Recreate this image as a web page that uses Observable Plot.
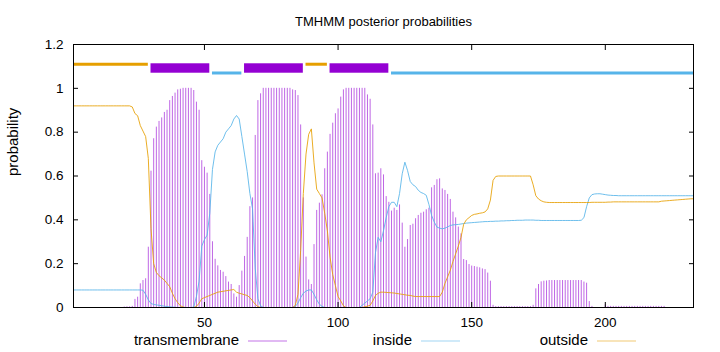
<!DOCTYPE html>
<html>
<head>
<meta charset="utf-8">
<script src="https://cdn.jsdelivr.net/npm/d3@7"></script>
<script src="https://cdn.jsdelivr.net/npm/@observablehq/plot@0.6"></script>
<style>
  html, body { margin: 0; padding: 0; background: #fff; }
  #chart { width: 720px; height: 352px; }
</style>
</head>
<body>
<div id="chart"></div>
<script>
// ---- chart text ----
const title = "TMHMM posterior probabilities";
const yLabel = "probability";
const seqLength = 233;
const xTicks = [50, 100, 150, 200];
const xTickLabels = ["50", "100", "150", "200"];
const yTicks = [0, 0.2, 0.4, 0.6, 0.8, 1, 1.2];
const yTickLabels = ["0", "0.2", "0.4", "0.6", "0.8", "1", "1.2"];
const seriesNames = ["transmembrane", "inside", "outside"];
const seriesColors = ["#9400d3", "#56b4e9", "#e69f00"];

// ---- posterior probabilities per residue (1..233) ----
const transmembrane = [
  0,0,0,0,0,0,0,0,0,0,
  0,0,0,0,0,0,0,0,0,0.002,
  0.003,0.003,0.005,0.037,0.047,0.108,0.123,0.131,0.275,0.622,
  0.77,0.823,0.849,0.865,0.89,0.9,0.944,0.963,0.978,0.993,
  0.996,1,1,1,1,0.99,0.937,0.9,0.67,0.64,
  0.613,0.516,0.3,0.22,0.19,0.169,0.161,0.141,0.116,0.105,
  0.062,0.047,0.1,0.166,0.233,0.32,0.46,0.5,0.785,0.944,
  0.975,1,1,1,1,1,1,1,1,1,
  1,1,0.993,0.99,0.967,0.833,0.5,0.23,0.126,0.105,
  0.287,0.443,0.476,0.514,0.633,0.709,0.79,0.841,0.884,0.906,
  0.96,0.993,1,1,1,1,1,1,1,1,
  0.97,0.95,0.833,0.61,0.613,0.633,0.605,0.506,0.48,0.44,
  0.453,0.443,0.468,0.385,0.275,0.31,0.374,0.38,0.405,0.42,
  0.43,0.435,0.446,0.453,0.546,0.557,0.583,0.587,0.541,0.534,
  0.516,0.493,0.435,0.409,0.367,0.336,0.219,0.214,0.196,0.189,
  0.187,0.184,0.181,0.176,0.173,0.157,0.12,0.01,0.004,0.004,
  0.004,0.004,0.004,0.004,0.004,0.004,0.004,0.004,0.004,0.004,
  0.004,0.004,0.01,0.085,0.105,0.117,0.12,0.121,0.123,0.123,
  0.123,0.123,0.123,0.123,0.123,0.123,0.123,0.123,0.123,0.123,
  0.123,0.116,0.111,0.027,0.005,0,0,0,0,0.012,
  0.005,0.005,0.005,0.005,0.005,0.005,0.005,0.005,0.005,0.005,
  0.005,0.005,0.005,0.005,0.005,0.005,0.005,0.005,0.005,0.005,
  0.005,0.005,0,0,0,0,0,0,0,0,
  0,0,0
];
const inside = [
  0.08,0.08,0.08,0.08,0.08,0.08,0.08,0.08,0.08,0.08,
  0.08,0.08,0.08,0.08,0.08,0.08,0.08,0.08,0.08,0.08,
  0.08,0.08,0.08,0.08,0.08,0.08,0.079,0.06,0.035,0.018,
  0.014,0.012,0.01,0.008,0.006,0.004,0.003,0.002,0.001,0,
  0,0,0,0,0,0.002,0.05,0.12,0.28,0.31,
  0.33,0.43,0.63,0.71,0.74,0.755,0.77,0.8,0.815,0.83,
  0.86,0.876,0.86,0.78,0.7,0.62,0.52,0.45,0.18,0.04,
  0.008,0,0,0,0,0,0,0,0,0,
  0,0,0,0.005,0.02,0.045,0.065,0.075,0.08,0.08,
  0.06,0.035,0.015,0.005,0,0,0,0,0,0,
  0,0,0,0,0,0,0,0,0.01,0.02,
  0.03,0.04,0.07,0.25,0.32,0.3,0.35,0.41,0.46,0.48,
  0.48,0.46,0.52,0.61,0.663,0.625,0.575,0.56,0.552,0.535,
  0.525,0.52,0.512,0.47,0.42,0.39,0.367,0.362,0.359,0.362,
  0.368,0.374,0.377,0.378,0.379,0.381,0.383,0.385,0.386,0.387,
  0.388,0.389,0.39,0.391,0.392,0.392,0.393,0.393,0.394,0.394,
  0.395,0.395,0.396,0.396,0.397,0.397,0.398,0.398,0.398,0.399,
  0.399,0.399,0.399,0.398,0.398,0.397,0.397,0.397,0.397,0.397,
  0.397,0.397,0.397,0.397,0.397,0.397,0.397,0.397,0.397,0.397,
  0.398,0.41,0.46,0.5,0.515,0.518,0.519,0.519,0.517,0.515,
  0.513,0.512,0.511,0.511,0.51,0.51,0.51,0.51,0.51,0.51,
  0.51,0.51,0.51,0.51,0.51,0.51,0.51,0.51,0.51,0.51,
  0.51,0.51,0.51,0.51,0.51,0.51,0.51,0.51,0.51,0.51,
  0.51,0.51,0.51
];
const outside = [
  0.92,0.92,0.92,0.92,0.92,0.92,0.92,0.92,0.92,0.92,
  0.92,0.92,0.92,0.92,0.92,0.92,0.92,0.92,0.92,0.92,
  0.92,0.92,0.915,0.885,0.875,0.83,0.805,0.78,0.68,0.36,
  0.2,0.16,0.145,0.135,0.125,0.11,0.095,0.065,0.04,0.022,
  0.008,0.002,0,0,0,0,0.005,0.02,0.04,0.045,
  0.05,0.055,0.06,0.065,0.07,0.072,0.074,0.076,0.078,0.08,
  0.082,0.07,0.065,0.062,0.058,0.055,0.045,0.03,0.015,0.004,
  0,0,0,0,0,0,0,0,0,0,
  0,0,0,0.01,0.06,0.26,0.52,0.7,0.79,0.815,
  0.66,0.54,0.52,0.5,0.43,0.35,0.23,0.15,0.1,0.05,
  0.03,0.008,0,0,0,0,0,0,0,0.003,
  0.006,0.01,0.03,0.055,0.065,0.07,0.07,0.069,0.068,0.067,
  0.066,0.064,0.062,0.06,0.058,0.056,0.055,0.052,0.05,0.05,
  0.05,0.05,0.05,0.05,0.05,0.05,0.05,0.05,0.07,0.11,
  0.14,0.17,0.21,0.245,0.28,0.32,0.38,0.4,0.41,0.42,
  0.425,0.427,0.43,0.432,0.436,0.45,0.49,0.58,0.598,0.6,
  0.6,0.6,0.6,0.6,0.6,0.6,0.6,0.6,0.6,0.6,
  0.6,0.6,0.56,0.51,0.495,0.487,0.482,0.48,0.479,0.479,
  0.479,0.479,0.479,0.479,0.479,0.479,0.479,0.479,0.479,0.479,
  0.479,0.479,0.479,0.479,0.48,0.48,0.48,0.48,0.48,0.48,
  0.481,0.481,0.482,0.482,0.482,0.482,0.482,0.482,0.482,0.482,
  0.482,0.482,0.482,0.482,0.482,0.482,0.482,0.482,0.482,0.482,
  0.485,0.486,0.487,0.488,0.489,0.49,0.491,0.492,0.493,0.494,
  0.495,0.496,0.496
];

// ---- predicted topology (top track) ----
const segStart = [1, 30, 53, 65, 88, 97, 120];
const segEnd   = [29, 52, 64, 87, 96, 119, 233];
const segType  = ["outside", "transmembrane", "inside", "transmembrane", "outside", "transmembrane", "inside"];

// ---- build tables ----
const rows = transmembrane.map((tm, i) => ({pos: i + 1, tm, inside: inside[i], outside: outside[i]}));
const segs = segStart.map((s, i) => ({start: s, end: segEnd[i], type: segType[i]}));

const fontFamily = "'Liberation Sans', Arial, sans-serif";

const plot = Plot.plot({
  width: 720,
  height: 352,
  marginLeft: 73,
  marginRight: 27,
  marginTop: 44,
  marginBottom: 45,
  style: {fontFamily, fontSize: "13px", background: "white", color: "black", overflow: "visible"},
  x: {domain: [1, seqLength]},
  y: {domain: [0, 1.2]},
  marks: [
    Plot.ruleX(rows, {x: "pos", y1: 0, y2: "tm", stroke: seriesColors[0], strokeOpacity: 0.6, strokeWidth: 1}),
    Plot.line(rows, {x: "pos", y: "inside", stroke: seriesColors[1], strokeWidth: 1, strokeOpacity: 0.85}),
    Plot.line(rows, {x: "pos", y: "outside", stroke: seriesColors[2], strokeWidth: 1, strokeOpacity: 0.85}),
    Plot.ruleY(segs.filter(d => d.type === "outside"), {x1: "start", x2: "end", y: 1.11, stroke: seriesColors[2], strokeWidth: 3}),
    Plot.ruleY(segs.filter(d => d.type === "inside"), {x1: "start", x2: "end", y: 1.07, stroke: seriesColors[1], strokeWidth: 3}),
    Plot.rect(segs.filter(d => d.type === "transmembrane"), {x1: "start", x2: "end", y1: 1.069, y2: 1.112, fill: seriesColors[0]}),
    Plot.frame({stroke: "black"}),
    Plot.axisY({anchor: "left", ticks: yTicks, tickFormat: d => yTickLabels[yTicks.indexOf(d)], tickSize: -5, tickPadding: 15, label: null, fontSize: 13.5}),
    Plot.axisY({anchor: "right", ticks: yTicks, tickFormat: () => "", tickSize: -5, label: null}),
    Plot.axisX({anchor: "bottom", ticks: xTicks, tickFormat: d => xTickLabels[xTicks.indexOf(d)], tickSize: -5, tickPadding: 15, label: null, fontSize: 13.5}),
    Plot.axisX({anchor: "top", ticks: xTicks, tickFormat: () => "", tickSize: -5, label: null}),
    Plot.text([title], {frameAnchor: "top", dy: -28, text: d => d, fontSize: 13}),
    Plot.text([yLabel], {frameAnchor: "left", dx: -60, rotate: -90, text: d => d, fontSize: 15})
  ]
});

// ---- key below the plot (gnuplot style: label then sample) ----
const svg = d3.select(plot);
const keyY = 340;
const keyTextEnd = [239, 412, 588];
const key = svg.append("g").attr("font-family", fontFamily).attr("font-size", 15);
seriesNames.forEach((name, i) => {
  key.append("text")
    .attr("x", keyTextEnd[i]).attr("y", keyY).attr("dy", "0.35em")
    .attr("text-anchor", "end").attr("fill", "black").text(name);
  key.append("line")
    .attr("x1", keyTextEnd[i] + 9).attr("x2", keyTextEnd[i] + 48)
    .attr("y1", keyY + 1).attr("y2", keyY + 1)
    .attr("stroke", seriesColors[i]).attr("stroke-opacity", 0.55).attr("stroke-width", 1);
});

document.getElementById("chart").appendChild(plot);
</script>
</body>
</html>
